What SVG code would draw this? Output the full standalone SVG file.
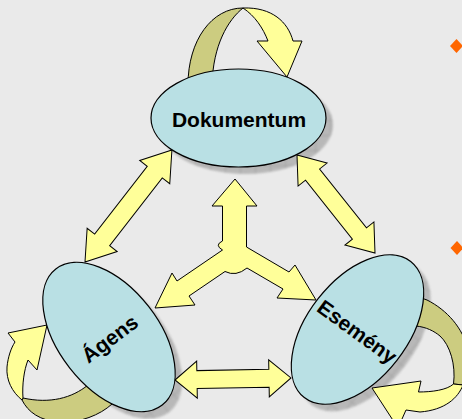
<svg xmlns="http://www.w3.org/2000/svg" width="462" height="419" viewBox="0 0 462 419">
<defs>
<pattern id="grid" width="15" height="15" patternUnits="userSpaceOnUse">
<rect width="15" height="15" fill="#a6a6a6"/>
<path d="M0 0.5H15M0.5 0V15" stroke="#8a8a8a" stroke-width="1"/>
</pattern>
<filter id="soft" x="-10%" y="-10%" width="120%" height="120%"><feGaussianBlur stdDeviation="1.2"/></filter>
</defs>
<style>
.arrow{fill:#ffff99;stroke:#000;stroke-width:1;stroke-linejoin:miter}
.back{fill:#cccc80;stroke:#000;stroke-width:1}
.node{fill:#b9e0e4;stroke:#000;stroke-width:1.2}
.shadow{fill:url(#grid);opacity:0.72;filter:url(#soft)}
.label{font-family:"Liberation Sans",Arial,sans-serif;font-weight:bold;font-size:21px;fill:#000;text-anchor:middle}
.bullet{fill:#ff6600}
</style>
<rect width="462" height="419" fill="#eaeaea"/>
<g id="shadows">
<ellipse class="shadow" cx="245.5" cy="125" rx="87.5" ry="49"/>
<ellipse class="shadow" cx="0" cy="0" rx="86.4" ry="50" transform="translate(116,344) rotate(52)"/>
<ellipse class="shadow" cx="0" cy="0" rx="86.4" ry="50" transform="translate(364.5,336.5) rotate(-52)"/>
</g>
<g id="connectors">
<path class="back" d="M188,85 C188,40 212,8 243,8 C228,20 213,45 212,85 Z"/>
<path class="arrow" d="M243,8 C272,7 288,22 293,41 L302,41 L287,77 L257,41 L268,41 C263,28 255,16 243,8 Z"/>
<path class="back" d="M22,400 C28,412 40,421 60,422 C80,423 100,415 112,404 L88,385 C72,398 50,404 23,398 Z"/>
<path class="arrow" d="M47,325 L37,370 L28,360 C24,370 22,385 23,398 L22,400 C12,392 6,380 7,367 C8,357 11,348 15,342 L8,333 Z"/>
<path class="back" d="M416,296 L427,300 C447,310 463,328 468,350 C471,365 468,378 463,385 L453.5,384 C456,365 450,345 440,336 C434,331 426,327 416,326 Z"/>
<path class="arrow" d="M372,388 L421,381 L418.5,392 C432,392 447,390 453.5,384 L463,385 C458,398 445,410 420,412 L406,410 L398,428 Z"/>
<path class="arrow" transform="translate(85,262) rotate(-52.2)" d="M0,0 L28,-19 L28,-9.5 L113.8,-9.5 L113.8,-19 L141.8,0 L113.8,19 L113.8,9.5 L28,9.5 L28,19 Z"/>
<path class="arrow" transform="translate(297,155) rotate(51.5)" d="M0,0 L25,-18.5 L25,-9 L100.3,-9 L100.3,-18.5 L125.3,0 L100.3,18.5 L100.3,9 L25,9 L25,18.5 Z"/>
<path class="arrow" transform="translate(175,380) rotate(-1)" d="M0,0 L22,-18.5 L22,-9 L94,-9 L94,-18.5 L116,0 L94,18.5 L94,9 L22,9 L22,18.5 Z"/>
<path class="arrow" d="M235,179 L257,206 L246.5,206 L246.5,247 L289,272 L295,265 L316,300 L277,298 L283,289 L247,268 Q236,277 225,271.5 L189,296 L195,305 L155,308 L172,273 L177,281 L222.5,250 Q214,245 222.5,241 L222.5,206 L212,206 Z"/>
</g>
<g id="node-dokumentum">
<ellipse class="node" cx="238.5" cy="118" rx="87.5" ry="49"/>
<text class="label" x="239" y="127">Dokumentum</text>
</g>
<g id="node-agens">
<ellipse class="node" cx="0" cy="0" rx="86.4" ry="50" transform="translate(109,337) rotate(52)"/>
<text class="label" x="110" y="346" transform="rotate(-37 110 339)">Ágens</text>
</g>
<g id="node-esemeny">
<ellipse class="node" cx="0" cy="0" rx="86.4" ry="50" transform="translate(357.5,329.5) rotate(-52)"/>
<text class="label" x="357" y="339" transform="rotate(36 357 332)">Esemény</text>
</g>
<g id="bullets">
<polygon class="bullet" points="456.5,39 463,46 456.5,53 450,46"/>
<polygon class="bullet" points="457,241 463.5,248 457,255 450.5,248"/>
</g>
</svg>
